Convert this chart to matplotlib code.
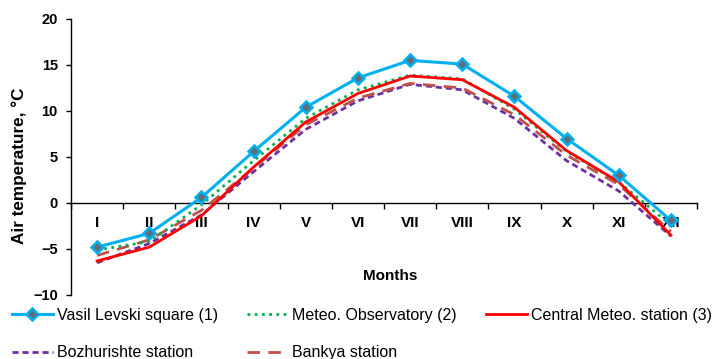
import matplotlib
matplotlib.use("Agg")
import matplotlib.pyplot as plt
import numpy as np

plt.rcParams['font.family'] = ['Liberation Sans', 'DejaVu Sans']

months = ["I", "II", "III", "IV", "V", "VI", "VII", "VIII", "IX", "X", "XI", "XII"]

vasil_levski = [-4.8, -3.3, 0.6, 5.6, 10.4, 13.6, 15.5, 15.1, 11.6, 7.0, 3.0, -1.9]
meteo_observatory = [-5.1, -4.2, -0.2, 4.6, 9.2, 12.3, 13.9, 13.5, 10.2, 5.6, 2.3, -2.4]
central_station = [-6.3, -4.8, -1.4, 3.9, 8.8, 11.9, 13.8, 13.4, 10.4, 5.7, 2.3, -3.5]
bozhurishte = [-6.5, -4.4, -1.3, 3.4, 8.0, 11.1, 12.9, 12.3, 9.2, 4.6, 1.3, -3.6]
bankya = [-5.7, -4.0, -0.8, 3.8, 8.5, 11.4, 13.0, 12.5, 9.6, 5.2, 2.0, -3.1]

W, H = 716, 359
fig = plt.figure(figsize=(W / 100, H / 100), dpi=100)
ax = fig.add_axes([71 / W, 1 - 295 / H, (697 - 71) / W, (295 - 19) / H])

x = np.arange(len(months)) + 0.5

h_vl, = ax.plot(x, vasil_levski, color="#00B0F0", lw=2.2, marker="D", ms=6.5,
                mfc="#5F6F7A", mec="#00B0F0", mew=1.8,
                label="Vasil Levski square (1)", zorder=6)
h_mo, = ax.plot(x, meteo_observatory, color="#00B050", lw=2.0, ls=(0, (1, 1.6)),
                label="Meteo. Observatory (2)", zorder=4)
h_cs, = ax.plot(x, central_station, color="#FF0000", lw=2.0,
                label="Central Meteo. station (3)", zorder=5)
h_bo, = ax.plot(x, bozhurishte, color="#7030A0", lw=2.0, ls=(0, (2.2, 1.4)),
                label="Bozhurishte station", zorder=3)
h_bk, = ax.plot(x, bankya, color="#C0504D", lw=2.0, ls=(0, (4.5, 3)),
                label="Bankya station", zorder=3)

ax.set_xlim(0, 12)
ax.set_ylim(-10, 20)
ax.set_yticks(np.arange(-10, 21, 5))

for s in ("top", "right"):
    ax.spines[s].set_visible(False)
ax.spines["bottom"].set_position(("data", 0))
ax.spines["bottom"].set_linewidth(1.0)
ax.spines["left"].set_linewidth(1.0)

# boundary ticks between months, month names centred in each slot
ax.set_xticks(np.arange(0, 13))
ax.set_xticklabels([])
ax.set_xticks(x, minor=True)
ax.set_xticklabels(months, minor=True, fontsize=11, fontweight="bold")
ax.tick_params(axis="x", which="major", direction="out", length=4, width=1)
ax.tick_params(axis="x", which="minor", length=0, pad=9.5)
ax.tick_params(axis="y", direction="out", length=3.5, width=1, pad=6)
for lab in ax.get_yticklabels():
    lab.set_fontsize(10.5)
    lab.set_fontweight("bold")

fig.text(390 / W, 1 - 276 / H, "Months", ha="center", va="center",
         fontsize=11, fontweight="bold")
fig.text(19 / W, 1 - 166 / H, "Air temperature, °C", ha="center", va="center",
         rotation=90, fontsize=12.3, fontweight="bold")

# legend filled column by column: row 1 = VL, MO, CS; row 2 = BO, BK
handles = [h_vl, h_bo, h_mo, h_bk, h_cs]
fig.legend(handles=handles, labels=[h.get_label() for h in handles],
           loc="upper left", bbox_to_anchor=(12 / W, 1 - 308 / H), ncol=3,
           frameon=False, fontsize=11.5, borderpad=0, borderaxespad=0,
           handlelength=2.56, handletextpad=0.25, columnspacing=1.82,
           labelspacing=1.4, numpoints=1)

fig.savefig("out.png", dpi=100)
